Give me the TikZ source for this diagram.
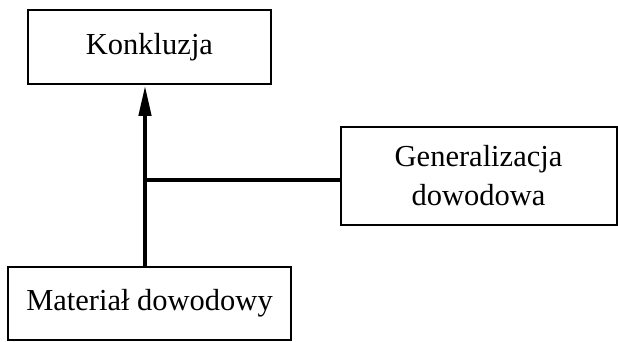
\documentclass[tikz,border=0pt]{standalone}
\usepackage{fontspec}
\setmainfont{Liberation Serif}
\usetikzlibrary{arrows.meta}
\begin{document}
\begin{tikzpicture}[x=1pt,y=-1pt,
  box/.style={draw,line width=2pt,inner sep=0pt,align=center,
    font=\fontsize{30.5}{39}\selectfont},
  conn/.style={line width=4.5pt}]
\useasboundingbox (0,0) rectangle (618,342);
\node[box,minimum width=243pt,minimum height=74pt] (K) at (149.5,47) {Konkluzja};
\node[box,minimum width=276pt,minimum height=98pt] (G) at (478.5,176) {Generalizacja\\dowodowa};
\node[box,minimum width=283pt,minimum height=73pt] (M) at (149.5,303.5) {Materiał dowodowy};
\coordinate (j) at (145,180);
\draw[conn,-{Triangle[length=31pt,width=12pt]}] (M.north -| j) -- (K.south -| j);
\draw[conn] (j) -- (G.west |- j);
\end{tikzpicture}
\end{document}
